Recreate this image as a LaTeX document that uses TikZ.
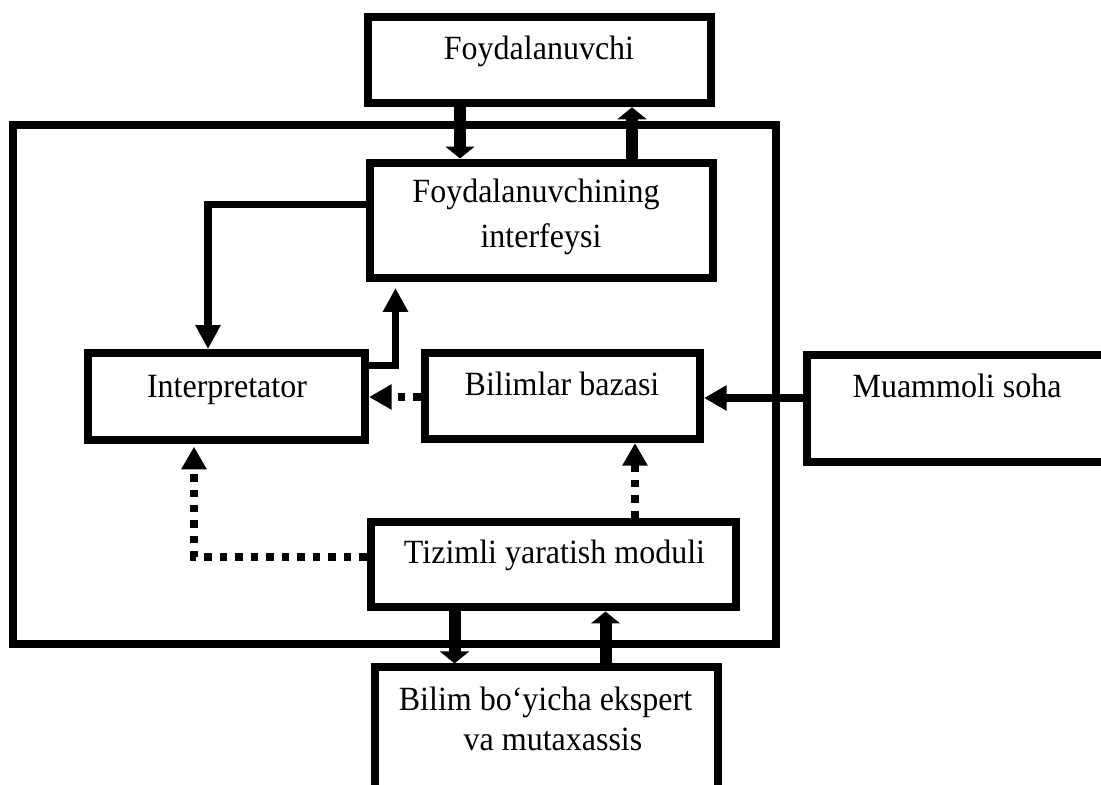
\documentclass[tikz,border=0pt]{standalone}
\usepackage{fontspec}
\usepackage{graphicx}
\setmainfont{Liberation Serif}
\usetikzlibrary{arrows.meta}
\newcommand{\tallt}[1]{\scalebox{1}[1.06]{#1}}
\begin{document}
\begin{tikzpicture}[x=0.75pt,y=-0.75pt,
  box/.style={draw, line width=6pt, rectangle, inner sep=0pt},
  lbl/.style={font=\fontsize{24}{28}\selectfont, inner sep=0pt, anchor=base},
  fat/.style={line width=9pt, -{Triangle[length=9pt,width=21.5pt]}},
  thinarr/.style={line width=5.6pt, line join=miter, -{Triangle[length=18pt,width=18pt]}},
  midarr/.style={line width=6.5pt, -{Triangle[length=17pt,width=18pt]}},
  dotarr/.style={line width=6pt, line join=miter, dash pattern=on 5.6pt off 6pt, -{Triangle[length=17pt,width=18pt]}},
]
\useasboundingbox (0,0) rectangle (1101,785);
\clip (0,0) rectangle (1101,785);

% frame and boxes
\node[box, minimum width=572.6pt, minimum height=389.25pt] (frame) at (394.25,384.5) {};
\node[box, minimum width=257.6pt, minimum height=64.9pt] (F) at (539.25,60) {};
\node[box, minimum width=257.25pt, minimum height=86.6pt] (I) at (541.5,220.25) {};
\node[box, minimum width=207.75pt, minimum height=65.25pt] (P) at (226.5,396.5) {};
\node[box, minimum width=206.5pt, minimum height=64.5pt] (B) at (562.35,396) {};
\node[box, minimum width=242.25pt, minimum height=80.6pt] (M) at (968.5,408.25) {};
\node[box, minimum width=274.1pt, minimum height=64.1pt] (T) at (553.25,564.75) {};
\node[box, minimum width=257.25pt, minimum height=114.4pt] (E) at (546,743.75) {};

% labels
\node[lbl] (tF) at (539,60) {\tallt{Foydalanuvchi}};
\node[lbl] (tI1) at (536,202) {\tallt{Foydalanuvchining}};
\node[lbl] (tI2) at (541,247) {\tallt{interfeysi}};
\node[lbl] (tP) at (227,397) {\tallt{Interpretator}};
\node[lbl] (tB) at (562,395) {\tallt{Bilimlar bazasi}};
\node[lbl] (tM) at (957,397) {\tallt{Muammoli soha}};
\node[lbl] (tT) at (554.5,563) {\tallt{Tizimli yaratish moduli}};
\node[lbl] (tE1) at (545.5,710) {\tallt{Bilim bo‘yicha ekspert}};
\node[lbl] (tE2) at (553,750) {\tallt{va mutaxassis}};

% helper coordinates
\coordinate (xa) at (460,0);
\coordinate (xb) at (632,0);
\coordinate (xc) at (208,0);
\coordinate (xd) at (395.5,0);
\coordinate (xe) at (635,0);
\coordinate (xf) at (194,0);
\coordinate (xg) at (454.5,0);
\coordinate (xh) at (605.5,0);
\coordinate (ya) at (0,204.5);
\coordinate (yb) at (0,365.5);
\coordinate (yc) at (0,397);
\coordinate (yd) at (0,398);
\coordinate (ye) at (0,556.5);

% connectors
\draw[fat] (F.south -| xa) -- (I.north -| xa);
\draw[fat] (I.north -| xb) -- (F.south -| xb);
\draw[thinarr] (I.west |- ya) -| (P.north -| xc);
\draw[thinarr, shorten >=4.5pt] (P.east |- yb) -| (I.south -| xd);
\draw[dotarr] (B.west |- yc) -- (P.east |- yc);
\draw[midarr] (M.west |- yd) -- (B.east |- yd);
\draw[dotarr] (T.north -| xe) -- (B.south -| xe);
\draw[dotarr, shorten >=2pt] (T.west |- ye) -| (P.south -| xf);
\draw[fat] (T.south -| xg) -- (E.north -| xg);
\draw[fat] (E.north -| xh) -- (T.south -| xh);
\end{tikzpicture}
\end{document}
